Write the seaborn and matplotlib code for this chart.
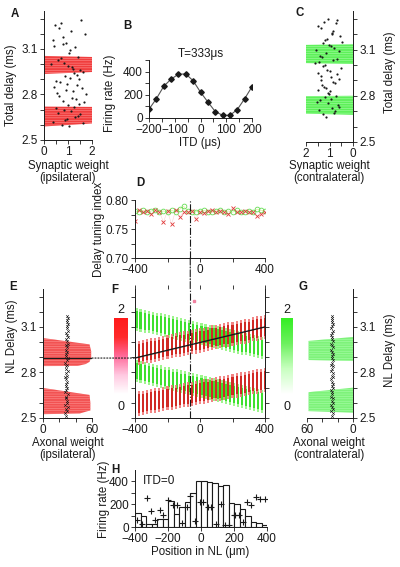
import numpy as np
import pandas as pd
import matplotlib
matplotlib.use("Agg")
import matplotlib.pyplot as plt
import seaborn as sns
from matplotlib.colors import LinearSegmentedColormap, Normalize
from matplotlib.cm import ScalarMappable
from matplotlib.patches import ConnectionPatch

# ---------------- data ----------------
delay_ticks = [2.5, 2.6, 2.7, 2.8, 2.9, 3.0, 3.1, 3.2, 3.3]
delay_labels = ['2.5', '', '', '2.8', '', '', '3.1', '', '']

# A : synaptic weights (ipsilateral)
a_band_up_y = [2.935, 2.948, 3.047, 3.054]
a_band_up_w = [0.0, 2.0, 2.0, 0.0]
a_band_lo_y = [2.589, 2.609, 2.718, 2.72]
a_band_lo_w = [0.0, 2.0, 2.0, 0.0]
a_dot_w = [0.45, 1.12, 0.78, 1.55, 0.92, 1.31, 0.63, 1.71, 1.05, 0.38, 1.42, 0.85, 1.18, 0.57, 1.63,
           0.99, 1.27, 0.72, 1.49, 0.31, 1.08, 0.66, 1.37, 0.88, 1.59, 0.52, 1.21, 0.95, 1.74, 0.41,
           1.15, 0.79, 1.46, 0.61, 1.02, 1.33, 0.48, 1.67, 0.83, 1.25, 0.58, 1.41, 0.97, 1.12, 0.36,
           1.52, 0.74, 1.29, 0.89, 1.61, 0.43, 1.07, 0.69, 1.38, 0.93, 1.19, 0.55, 1.47, 0.81, 1.03]
a_dot_y = [3.26, 3.22, 3.18, 3.29, 3.14, 3.11, 3.24, 3.20, 3.07, 3.16, 3.05, 3.01, 2.98, 3.03, 2.95,
           2.99, 2.94, 3.04, 2.96, 3.00, 2.91, 2.88, 2.86, 2.92, 2.84, 2.89, 2.82, 2.87, 2.80, 2.85,
           2.78, 2.76, 2.74, 2.79, 2.73, 2.77, 2.71, 2.75, 2.70, 2.72, 2.68, 2.66, 2.64, 2.69, 2.62,
           2.67, 2.60, 2.65, 2.63, 2.61, 3.12, 3.09, 3.27, 2.93, 2.83, 2.97, 2.81, 2.90, 3.13, 2.59]

# B : firing rate vs ITD
itd_us = [-200, -171.4, -142.9, -114.3, -85.7, -57.1, -28.6, 0, 28.6, 57.1, 85.7, 114.3, 142.9, 171.4, 200]
itd_rate = [76, 166, 273, 335, 377, 380, 321, 223, 138, 56, 23, 23, 73, 166, 270]

# C : synaptic weights (contralateral)
c_band_up_y = [3.006, 3.012, 3.13, 3.134]
c_band_up_w = [0.0, 2.0, 2.0, 0.0]
c_band_lo_y = [2.676, 2.684, 2.798, 2.80]
c_band_lo_w = [0.0, 2.0, 2.0, 0.0]
c_dot_w = [1.05, 0.72, 1.38, 0.91, 1.22, 0.55, 1.47, 0.83, 1.12, 0.66, 1.29, 0.95, 1.58, 0.48, 1.17,
           0.79, 1.41, 1.01, 0.61, 1.33, 0.87, 1.19, 0.52, 1.45, 0.98, 1.26, 0.69, 1.62, 0.93, 1.11,
           1.36, 0.77, 1.24, 0.58, 1.49, 0.85, 1.07, 1.31, 0.71, 1.15, 0.94, 1.53, 0.63, 1.21, 0.88,
           1.39, 0.75, 1.08, 1.27, 0.59, 1.43, 0.82, 1.13, 0.97, 1.35, 0.67, 1.18, 0.89, 1.51, 1.03]
c_dot_y = [3.30, 3.27, 3.24, 3.21, 3.28, 3.19, 3.25, 3.22, 3.17, 3.29, 3.14, 3.12, 3.10, 3.15, 3.08,
           3.11, 3.06, 3.13, 3.09, 3.05, 3.03, 3.00, 2.98, 3.02, 2.96, 2.99, 2.94, 3.01, 2.92, 2.97,
           2.90, 2.88, 2.86, 2.91, 2.84, 2.89, 2.82, 2.87, 2.80, 2.85, 2.78, 2.76, 2.74, 2.79, 2.72,
           2.77, 2.70, 2.75, 2.68, 2.73, 2.71, 2.69, 2.66, 2.83, 2.93, 3.04, 3.16, 3.20, 2.95, 2.81]

# D / F : positions in NL
nl_pos = [-400, -375, -350, -325, -300, -275, -250, -225, -200, -175, -150, -125, -100, -75, -50, -25, 0,
          25, 50, 75, 100, 125, 150, 175, 200, 225, 250, 275, 300, 325, 350, 375, 400]
d_red = [0.764, 0.783, 0.779, 0.781, 0.776, 0.782, 0.780, 0.762, 0.781, 0.758, 0.782, 0.771, 0.780,
         0.779, 0.781, 0.768, 0.779, 0.778, 0.781, 0.782, 0.780, 0.781, 0.779, 0.776, 0.787, 0.780,
         0.779, 0.781, 0.780, 0.779, 0.772, 0.776, 0.780]
d_green = [0.781, 0.780, 0.782, 0.779, 0.781, 0.783, 0.780, 0.781, 0.779, 0.782, 0.780, 0.784, 0.789,
           0.781, 0.779, 0.780, 0.781, 0.782, 0.780, 0.779, 0.781, 0.783, 0.780, 0.781, 0.779, 0.782,
           0.780, 0.779, 0.781, 0.780, 0.784, 0.782, 0.781]
best_itd_pos = -60

f_red_up = [2.925, 2.93, 2.935, 2.94, 2.945, 2.95, 2.955, 2.96, 2.97, 2.975, 2.98, 2.985, 2.99, 2.995,
            3.00, 3.005, 3.01, 3.015, 3.02, 3.03, 3.035, 3.04, 3.045, 3.05, 3.055, 3.06, 3.065, 3.07,
            3.075, 3.085, 3.09, 3.095, 3.10]
f_red_lo = [2.59, 2.595, 2.60, 2.607, 2.61, 2.615, 2.62, 2.626, 2.63, 2.635, 2.64, 2.646, 2.65, 2.655,
            2.66, 2.666, 2.67, 2.675, 2.68, 2.686, 2.69, 2.695, 2.70, 2.706, 2.71, 2.715, 2.72, 2.726,
            2.73, 2.735, 2.74, 2.745, 2.75]
f_green_up = [3.15, 3.144, 3.138, 3.132, 3.126, 3.12, 3.114, 3.108, 3.102, 3.096, 3.09, 3.084, 3.078,
              3.072, 3.066, 3.06, 3.053, 3.047, 3.041, 3.035, 3.029, 3.023, 3.017, 3.011, 3.005, 2.999,
              2.993, 2.987, 2.981, 2.975, 2.968, 2.962, 2.955]
f_green_lo = [2.81, 2.803, 2.797, 2.79, 2.784, 2.777, 2.771, 2.764, 2.758, 2.751, 2.745, 2.738, 2.732,
              2.725, 2.719, 2.712, 2.706, 2.699, 2.693, 2.686, 2.68, 2.673, 2.667, 2.66, 2.654, 2.647,
              2.641, 2.634, 2.628, 2.621, 2.615, 2.608, 2.60]
f_fit_x = [-400, 400]
f_fit_y = [2.895, 3.10]

# E : axonal weights (ipsilateral)
e_band_up_y = [2.842, 2.843, 2.855, 2.87, 2.90, 2.94, 2.985, 3.027]
e_band_up_w = [0, 42, 52, 57, 59, 59, 57, 0]
e_band_lo_y = [2.525, 2.53, 2.55, 2.60, 2.652, 2.698]
e_band_lo_w = [0, 45, 58, 58, 57, 0]
mark_y = [2.515, 2.53, 2.545, 2.56, 2.57, 2.585, 2.60, 2.615, 2.63, 2.64, 2.655, 2.67, 2.685, 2.70,
          2.71, 2.725, 2.74, 2.755, 2.77, 2.78, 2.795, 2.81, 2.825, 2.84, 2.85, 2.865, 2.88, 2.895,
          2.91, 2.92, 2.935, 2.95, 2.965, 2.98, 2.99, 3.005, 3.02, 3.035, 3.05, 3.06, 3.075, 3.09,
          3.105, 3.12, 3.13, 3.145, 3.16, 3.175]
e_mark_x = [28.5, 27.2, 29.1, 28.0, 30.2, 27.5, 28.8, 29.6, 27.9, 28.3, 30.0, 27.1, 28.7, 29.4, 28.1,
            27.6, 29.8, 28.4, 27.3, 29.0, 28.6, 30.1, 27.8, 28.2, 29.3, 27.4, 28.9, 30.4, 28.0, 27.7,
            29.5, 28.3, 29.9, 28.6, 30.3, 29.1, 28.4, 30.6, 29.2, 28.7, 30.0, 29.4, 28.8, 30.5, 29.6,
            29.0, 30.2, 29.7]
e_level = 2.895

# G : axonal weights (contralateral)
g_band_up_y = [2.876, 2.882, 3.008, 3.034]
g_band_up_w = [0, 58, 58, 0]
g_band_lo_y = [2.535, 2.545, 2.67, 2.70]
g_band_lo_w = [0, 58, 58, 0]
g_mark_x = [27.5, 26.1, 28.3, 25.8, 27.0, 28.9, 26.4, 27.7, 25.9, 28.1, 26.8, 27.4, 28.6, 26.2, 27.9,
            25.7, 27.2, 28.4, 26.6, 27.8, 26.0, 28.2, 27.1, 26.5, 28.7, 27.3, 25.9, 27.6, 28.0, 26.3,
            27.5, 28.8, 26.7, 27.2, 28.5, 26.1, 27.9, 26.9, 28.3, 27.0, 26.4, 28.1, 27.4, 26.6, 28.0,
            27.3, 26.8, 27.6]

# H : firing rate along NL at ITD=0
h_centers = [-383, -350, -317, -283, -250, -217, -183, -150, -117, -83, -50, -17,
             17, 50, 83, 117, 150, 183, 217, 250, 283, 317, 350, 383]
h_rate = [120, 100, 25, 25, 72, 72, 229, 110, 175, 218, 300, 405,
          405, 395, 385, 360, 370, 212, 200, 160, 100, 43, 35, 20]
h_cross_x = [-390, -359, -329, -305, -278, -248, -228, -197, -167, -147, -116, -86, -66, -35, -5, 15,
             42, 62, 92, 121, 147, 167, 197, 208, 228, 254, 278, 303, 335, 360, 386]
h_cross_y = [58, 29, 252, 136, 64, 145, 107, 241, 194, 194, 35, 174, 270, 49, 223, 223,
             174, 174, 29, 203, 20, 20, 101, 101, 101, 43, 223, 197, 261, 246, 246]

# ---------------- style ----------------
sns.set_theme(style="ticks")
plt.rcParams['font.family'] = ['Liberation Sans', 'DejaVu Sans']
plt.rcParams.update({
    'text.color': 'k', 'axes.labelcolor': 'k', 'xtick.color': 'k', 'ytick.color': 'k',
    'axes.edgecolor': 'k', 'axes.linewidth': 0.7, 'hatch.linewidth': 0.35,
})
TS = 8.5
LS = 8.3

W, H = 400, 567
fig = plt.figure(figsize=(4, 5.67), dpi=100)


def add_ax(l, t, r, b):
    return fig.add_axes([l / W, 1 - b / H, (r - l) / W, (b - t) / H])


def tick_style(ax):
    ax.tick_params(labelsize=TS, length=3, width=0.6, pad=1.5)


def ptxt(x, y, s, **kw):
    kw.setdefault('fontsize', LS)
    kw.setdefault('ha', 'center')
    kw.setdefault('va', 'center')
    fig.text(x / W, 1 - y / H, s, **kw)


RED_BAND = '#f03e3e'
RED_HATCH = '#ff9a9a'
GREEN_BAND = '#5ef05a'
GREEN_HATCH = '#b0ffb0'

# ---------------- A ----------------
axA = add_ax(44, 11, 92, 140)
for yy, ww in [(a_band_up_y, a_band_up_w), (a_band_lo_y, a_band_lo_w)]:
    axA.fill_betweenx(yy, 0, ww, facecolor=RED_BAND, edgecolor=RED_HATCH, hatch='-------', lw=0)
sns.scatterplot(x=a_dot_w, y=a_dot_y, ax=axA, s=2.5, color='k', linewidth=0, legend=False)
axA.set_xlim(0, 2)
axA.set_ylim(2.5, 3.35)
axA.set_yticks(delay_ticks)
axA.set_yticklabels(delay_labels)
axA.set_xticks([0, 0.5, 1, 1.5, 2])
axA.set_xticklabels(['0', '', '1', '', '2'])
sns.despine(ax=axA)
tick_style(axA)

# ---------------- B ----------------
axB = add_ax(149, 60, 252, 118)
sns.lineplot(x=itd_us, y=itd_rate, ax=axB, color='#555555', lw=0.8)
axB.plot(itd_us, itd_rate, 'D', color='k', ms=2.8)
axB.set_xlim(-200, 200)
axB.set_ylim(0, 500)
axB.set_xticks([-200, -150, -100, -50, 0, 50, 100, 150, 200])
axB.set_xticklabels(['\u2212200', '', '\u2212100', '', '0', '', '100', '', '200'])
axB.set_yticks([0, 100, 200, 300, 400, 500])
axB.set_yticklabels(['0', '', '200', '', '400', ''])
sns.despine(ax=axB)
tick_style(axB)
axB.text(0.5, 1.0, 'T=333\u03bcs', transform=axB.transAxes, ha='center', va='bottom', fontsize=TS)

# ---------------- C ----------------
axC = add_ax(306, 11, 353, 142)
for yy, ww in [(c_band_up_y, c_band_up_w), (c_band_lo_y, c_band_lo_w)]:
    axC.fill_betweenx(yy, 0, ww, facecolor=GREEN_BAND, edgecolor=GREEN_HATCH, hatch='-------', lw=0)
sns.scatterplot(x=c_dot_w, y=c_dot_y, ax=axC, s=2.5, color='k', linewidth=0, legend=False)
axC.set_xlim(2, 0)
axC.set_ylim(2.5, 3.35)
axC.yaxis.tick_right()
axC.set_yticks(delay_ticks)
axC.set_yticklabels(delay_labels)
axC.set_xticks([0, 0.5, 1, 1.5, 2])
axC.set_xticklabels(['0', '', '1', '', '2'])
axC.spines['left'].set_visible(False)
axC.spines['top'].set_visible(False)
tick_style(axC)

# ---------------- D ----------------
axD = add_ax(135, 200, 265, 258)
axD.plot(nl_pos, d_green, color='#c8e060', lw=0.5, alpha=0.6)
axD.plot(nl_pos, d_red, color='#f09090', lw=0.4, alpha=0.4)
axD.plot(nl_pos, d_green, 'o', mfc='none', mec='#66dd55', ms=3.4, mew=0.6)
axD.plot(nl_pos, d_red, 'x', color='#e03a3a', ms=3.2, mew=0.6)
axD.axvline(best_itd_pos, color='k', lw=0.8, ls='-.')
axD.set_xlim(-400, 400)
axD.set_ylim(0.70, 0.80)
axD.set_yticks([0.70, 0.725, 0.75, 0.775, 0.80])
axD.set_yticklabels(['0.70', '', '0.75', '', '0.80'])
axD.set_xticks([-400, -200, 0, 200, 400])
axD.set_xticklabels(['\u2212400', '', '0', '', '400'])
sns.despine(ax=axD)
tick_style(axD)

# ---------------- E ----------------
axE = add_ax(43, 289, 92, 418)
for yy, ww in [(e_band_up_y, e_band_up_w), (e_band_lo_y, e_band_lo_w)]:
    axE.fill_betweenx(yy, 0, ww, facecolor='#f25252', edgecolor=RED_HATCH, hatch='-------', lw=0)
axE.axhline(e_level, color='k', lw=0.9)
axE.scatter(e_mark_x, mark_y, marker='x', s=4, c='k', linewidths=0.4)
axE.set_xlim(0, 60)
axE.set_ylim(2.5, 3.35)
axE.set_yticks(delay_ticks)
axE.set_yticklabels(delay_labels)
axE.set_xticks([0, 20, 40, 60])
axE.set_xticklabels(['0', '', '', '60'])
sns.despine(ax=axE)
tick_style(axE)

# ---------------- F ----------------
axF = add_ax(135, 289, 265, 418)
gx = [p + 9 for p in nl_pos]
for centers in (f_green_up, f_green_lo):
    axF.bar(gx, [0.15] * len(centers), bottom=[c - 0.075 for c in centers], width=13,
            color='#9ef58e', lw=0)
    axF.bar(gx, [0.11] * len(centers), bottom=[c - 0.055 for c in centers], width=13,
            color='#3ee02e', lw=0)
for centers in (f_red_up, f_red_lo):
    axF.bar(nl_pos, [0.16] * len(centers), bottom=[c - 0.08 for c in centers], width=13,
            color='#f07070', lw=0, alpha=0.85)
    axF.bar(nl_pos, [0.12] * len(centers), bottom=[c - 0.06 for c in centers], width=13,
            color='#cc1a14', lw=0, alpha=0.85)
axF.plot(f_fit_x, f_fit_y, color='k', lw=1.0)
axF.plot([-40], [3.27], 's', color='#f080a0', ms=1.5)
axF.axvline(best_itd_pos, color='k', lw=0.8, ls='-.')
axF.set_xlim(-400, 400)
axF.set_ylim(2.5, 3.35)
axF.set_yticks(delay_ticks)
axF.set_yticklabels([])
axF.set_xticks([-400, -200, 0, 200, 400])
axF.set_xticklabels(['\u2212400', '', '0', '', '400'])
axF.tick_params(top=True, right=True, labeltop=False, labelright=False)
axF.spines['top'].set_visible(False)
tick_style(axF)

# colour bars
red_cmap = LinearSegmentedColormap.from_list('wr', ['#ffffff', '#ffc8e0', '#ff6a9a', '#ff2a2a', '#ff1a1a'])
green_cmap = LinearSegmentedColormap.from_list('wg', ['#ffffff', '#c8ffc0', '#6cf05e', '#33ee22'])
for (l, r, cm, xc) in [(114, 128, red_cmap, 121), (281, 293, green_cmap, 287)]:
    cax = add_ax(l, 318, r, 394)
    cb = fig.colorbar(ScalarMappable(norm=Normalize(0, 2), cmap=cm), cax=cax)
    cb.set_ticks([])
    cb.outline.set_visible(False)
    ptxt(xc, 310, '2', fontsize=TS + 0.5)
    ptxt(xc, 407, '0', fontsize=TS + 0.5)

# ---------------- G ----------------
axG = add_ax(307, 289, 353, 418)
for yy, ww in [(g_band_up_y, g_band_up_w), (g_band_lo_y, g_band_lo_w)]:
    axG.fill_betweenx(yy, 0, ww, facecolor='#7ef27a', edgecolor=GREEN_HATCH, hatch='-------', lw=0)
axG.scatter(g_mark_x, mark_y, marker='x', s=4, c='k', linewidths=0.4)
axG.set_xlim(60, 0)
axG.set_ylim(2.5, 3.35)
axG.yaxis.tick_right()
axG.set_yticks(delay_ticks)
axG.set_yticklabels(delay_labels)
axG.set_xticks([0, 20, 40, 60])
axG.set_xticklabels(['0', '', '', '60'])
axG.spines['left'].set_visible(False)
axG.spines['top'].set_visible(False)
tick_style(axG)

# connecting lines
fig.add_artist(ConnectionPatch(xyA=(60, e_level), coordsA=axE.transData,
                               xyB=(-400, e_level), coordsB=axF.transData,
                               ls=':', lw=0.8, color='k'))
fig.add_artist(ConnectionPatch(xyA=(best_itd_pos, 0.70), coordsA=axD.transData,
                               xyB=(best_itd_pos, 3.35), coordsB=axF.transData,
                               ls='-.', lw=0.8, color='k'))

# ---------------- H ----------------
axH = add_ax(135, 470, 267, 527)
sns.histplot(x=h_centers, weights=h_rate, bins=24, binrange=(-400, 400), ax=axH,
             color='white', edgecolor='k', linewidth=0.8, alpha=1)
axH.plot(h_cross_x, h_cross_y, '+', color='k', ms=5, mew=0.8)
axH.set_xlim(-400, 400)
axH.set_ylim(0, 500)
axH.set_ylabel('')
axH.set_xticks([-400, -200, 0, 200, 400])
axH.set_xticklabels(['\u2212400', '\u2212200', '0', '200', '400'])
axH.set_yticks([0, 100, 200, 300, 400])
axH.set_yticklabels(['0', '', '200', '', '400'])
sns.despine(ax=axH)
tick_style(axH)
axH.text(0.06, 0.8, 'ITD=0', transform=axH.transAxes, fontsize=TS, ha='left', va='center')

# ---------------- labels ----------------
for s, x, y in [('A', 15, 14), ('B', 127, 26), ('C', 300, 13), ('D', 140, 183),
                ('E', 13, 287), ('F', 115, 290), ('G', 303, 287), ('H', 115, 470)]:
    ptxt(x, y, s, fontweight='bold', fontsize=LS)

ptxt(11, 85, 'Total delay (ms)', rotation=90)
ptxt(68, 166, 'Synaptic weight')
ptxt(68, 178, '(ipsilateral)')
ptxt(110, 93, 'Firing rate (Hz)', rotation=90)
ptxt(200, 143, 'ITD (\u03bcs)')
ptxt(390, 72, 'Total delay (ms)', rotation=90)
ptxt(329, 166, 'Synaptic weight')
ptxt(329, 178, '(contralateral)')
ptxt(99, 229, 'Delay tuning index', rotation=90)
ptxt(12, 336, 'NL Delay (ms)', rotation=90)
ptxt(68, 443, 'Axonal weight')
ptxt(68, 455, '(ipsilateral)')
ptxt(390, 350, 'NL Delay (ms)', rotation=90)
ptxt(329, 443, 'Axonal weight')
ptxt(329, 455, '(contralateral)')
ptxt(104, 499, 'Firing rate (Hz)', rotation=90)
ptxt(200, 552, 'Position in NL (\u03bcm)')

fig.savefig('out.png', dpi=100)
